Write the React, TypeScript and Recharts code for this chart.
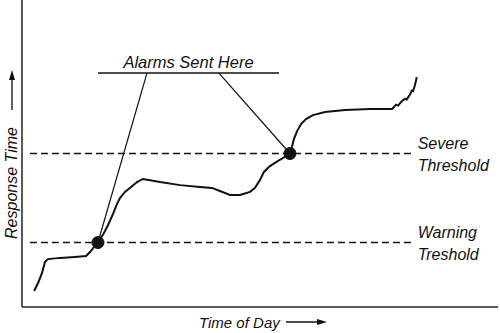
import {
  ComposedChart,
  Line,
  XAxis,
  YAxis,
  ReferenceLine,
  ReferenceDot,
  Label,
} from "recharts"

// time of day (hours) and response time (arbitrary units)
const hours = [
  0.61, 0.81, 1.01, 1.16, 1.31, 1.92, 2.67, 3.23, 3.43, 3.63, 3.83, 4.08, 4.34, 4.59, 4.79,
  4.94, 5.19, 5.5, 5.8, 6.1, 6.96, 7.97, 8.97, 9.58, 9.98, 10.49, 10.99, 11.5, 11.75, 12.0,
  12.2, 12.5, 12.91, 13.26, 13.51, 13.61, 13.71, 13.87, 14.07, 14.32, 14.67, 15.28, 16.29,
  17.55, 18.66, 18.86, 18.96, 19.16, 19.31, 19.4, 19.56, 19.66, 19.72, 19.8, 19.86, 19.9,
]
const response = [
  5.2, 7.8, 11.1, 14.7, 15.6, 16.0, 16.3, 16.6, 17.9, 19.5, 21.0, 23.5, 26.7, 30.3, 33.6,
  35.5, 37.5, 39.1, 40.7, 41.7, 40.7, 39.7, 39.1, 38.8, 37.8, 36.5, 36.5, 37.5, 38.8, 41.4,
  44.0, 45.9, 47.6, 48.9, 50.0, 52.1, 54.7, 57.3, 59.6, 61.2, 62.5, 63.5, 64.2,
  64.5, 64.5, 65.9, 65.6, 67.1, 67.8, 67.6, 69.2, 70.5, 70.3, 72.0, 73.5, 74.9,
]

const warningLevel = 21
const severeLevel = 50
const thresholdSpan = [0.4, 19.8]
const alarms = [
  { hour: 3.83, level: warningLevel },
  { hour: 13.51, level: severeLevel },
]
// annotation bar and where its two leader lines leave it
const calloutLevel = 76.2
const calloutSpan = [3.83, 12.96]
const leaderStarts = [6.3, 9.93]

const data = hours.map((h, i) => ({ hour: h, response: response[i] }))

const FONT = "'Liberation Sans', Arial, Helvetica, sans-serif"
const INK = "#111"

function ThresholdLabel({ viewBox, lines }: any) {
  const x = viewBox.x + viewBox.width + 3
  const y = viewBox.y
  return (
    <text x={x} y={y} fontFamily={FONT} fontStyle="italic" fontSize={16} fill={INK}>
      <tspan x={x} y={y - 5}>{lines[0]}</tspan>
      <tspan x={x} y={y + 17}>{lines[1]}</tspan>
    </text>
  )
}

function YTitle() {
  return (
    <g>
      <text
        x={0}
        y={0}
        transform="translate(17, 183) rotate(-90)"
        textAnchor="middle"
        fontFamily={FONT}
        fontStyle="italic"
        fontSize={16}
        fill={INK}
      >
        Response Time
      </text>
      <line x1={12} y1={110} x2={12} y2={78} stroke={INK} strokeWidth={1.3} />
      <polygon points="12,70 9,80 15,80" fill={INK} />
    </g>
  )
}

function XTitle() {
  return (
    <g>
      <text x={199} y={328} fontFamily={FONT} fontStyle="italic" fontSize={15} fill={INK}>
        Time of Day
      </text>
      <line x1={286} y1={322} x2={319} y2={322} stroke={INK} strokeWidth={1.3} />
      <polygon points="327,322 317,319 317,325" fill={INK} />
    </g>
  )
}

export default function App() {
  return (
    <div style={{ position: "fixed", left: 0, top: 0, width: 500, height: 333, background: "#fff" }}>
      <ComposedChart
        width={500}
        height={333}
        data={data}
        margin={{ top: 0, right: 2, left: 0, bottom: 0 }}
      >
        <XAxis
          dataKey="hour"
          type="number"
          domain={[0, 24]}
          tick={false}
          tickLine={false}
          height={26}
          axisLine={{ stroke: "#222", strokeWidth: 1.5 }}
        >
          <Label content={<XTitle />} />
        </XAxis>
        <YAxis
          type="number"
          domain={[0, 100]}
          tick={false}
          tickLine={false}
          width={22}
          axisLine={{ stroke: "#222", strokeWidth: 1.5 }}
        >
          <Label content={<YTitle />} />
        </YAxis>

        <ReferenceLine
          segment={[
            { x: thresholdSpan[0], y: severeLevel },
            { x: thresholdSpan[1], y: severeLevel },
          ]}
          stroke={INK}
          strokeWidth={1.4}
          strokeDasharray="7 4"
        >
          <Label content={<ThresholdLabel lines={["Severe", "Threshold"]} />} />
        </ReferenceLine>
        <ReferenceLine
          segment={[
            { x: thresholdSpan[0], y: warningLevel },
            { x: thresholdSpan[1], y: warningLevel },
          ]}
          stroke={INK}
          strokeWidth={1.4}
          strokeDasharray="7 4"
        >
          <Label content={<ThresholdLabel lines={["Warning", "Treshold"]} />} />
        </ReferenceLine>

        <ReferenceLine
          segment={[
            { x: calloutSpan[0], y: calloutLevel },
            { x: calloutSpan[1], y: calloutLevel },
          ]}
          stroke={INK}
          strokeWidth={1.4}
        >
          <Label
            value="Alarms Sent Here"
            position="top"
            offset={5}
            fontFamily={FONT}
            fontStyle="italic"
            fontSize={16.5}
            fill={INK}
          />
        </ReferenceLine>
        {alarms.map((a, i) => (
          <ReferenceLine
            key={"leader-" + i}
            segment={[
              { x: leaderStarts[i], y: calloutLevel },
              { x: a.hour, y: a.level },
            ]}
            stroke={INK}
            strokeWidth={1.2}
          />
        ))}

        <Line
          dataKey="response"
          type="linear"
          stroke={INK}
          strokeWidth={2}
          dot={false}
          activeDot={false}
          isAnimationActive={false}
        />

        {alarms.map((a, i) => (
          <ReferenceDot key={"alarm-" + i} x={a.hour} y={a.level} r={6} fill={INK} stroke={INK} />
        ))}
      </ComposedChart>
    </div>
  )
}
